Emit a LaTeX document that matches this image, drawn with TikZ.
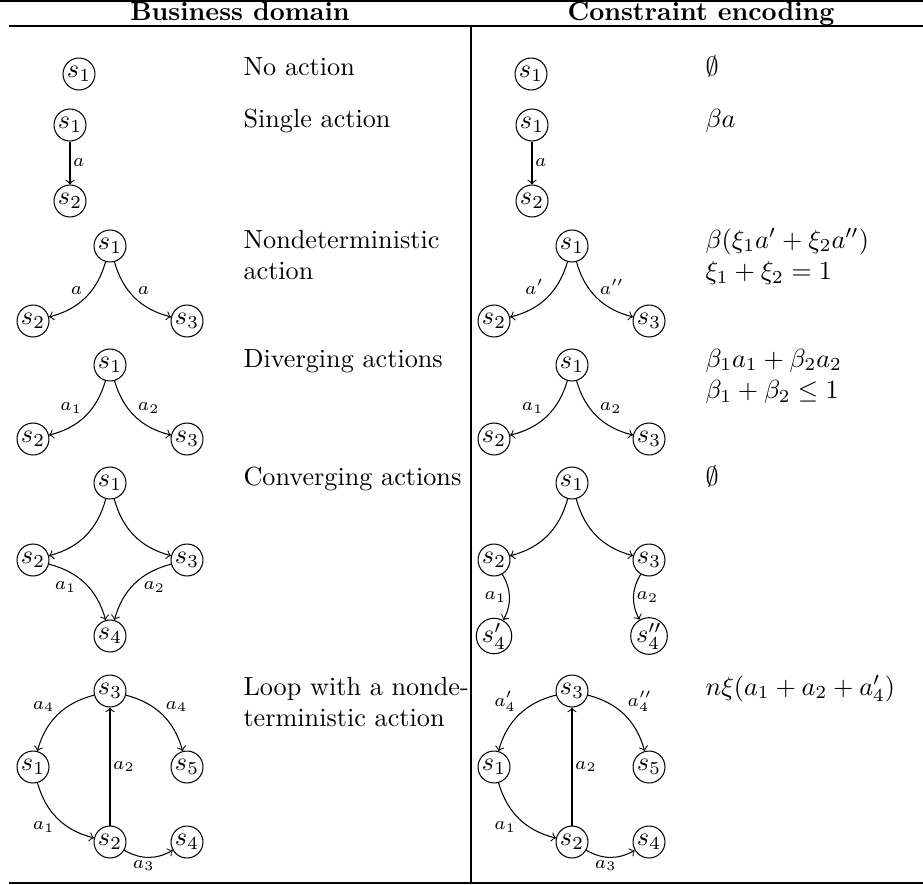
\documentclass[tikz,border=0pt]{standalone}
\begin{document}
\begin{tikzpicture}[x=0.3817pt, y=0.3817pt,
  st/.style={circle, draw, thin, minimum size=12.2pt, inner sep=0pt},
  tr/.style={->, thin},
  lbl/.style={font=\scriptsize, inner sep=1pt},
  txt/.style={anchor=base west, inner sep=0pt},
  hd/.style={anchor=base, inner sep=0pt, font=\bfseries},
  heavyrule/.style={line width=0.8pt},
  lightrule/.style={line width=0.5pt}]
\useasboundingbox (0,0) rectangle (923,-884);
% rules
\coordinate (tl) at (0,-1.05);   \coordinate (tr) at (923,-1.05);
\coordinate (ml) at (9,-26);     \coordinate (mr) at (923,-26);
\coordinate (bl) at (9,-882.95); \coordinate (br) at (923,-882.95);
\coordinate (vt) at (471,-26);   \coordinate (vb) at (471,-882);
\draw[heavyrule] (tl) -- (tr);
\draw[lightrule] (ml) -- (mr);
\draw[heavyrule] (bl) -- (br);
\draw[thin] (vt) -- (vb);
% header
\node[hd] (h1) at (240,-20.5) {Business domain};
\node[hd] (h2) at (701,-20.5) {Constraint encoding};

% row 1
\node[st] (La1) at (79,-74) {$s_1$};
\node[txt] (Lat) at (243,-76) {No action};
\node[st] (Ra1) at (531,-74) {$s_1$};
\node[txt] (Rat) at (705,-76) {$\emptyset$};

% row 2
\node[st] (Lb1) at (70,-125) {$s_1$};
\node[st] (Lb2) at (70,-201) {$s_2$};
\draw[tr] (Lb1) -- node[lbl, right] {$a$} (Lb2);
\node[txt] (Lbt) at (243,-128) {Single action};
\node[st] (Rb1) at (532,-125) {$s_1$};
\node[st] (Rb2) at (532,-201) {$s_2$};
\draw[tr] (Rb1) -- node[lbl, right] {$a$} (Rb2);
\node[txt] (Rbt) at (705,-128) {$\beta a$};

% row 3
\node[st] (Lc1) at (110,-246) {$s_1$};
\node[st] (Lc2) at (33,-321) {$s_2$};
\node[st] (Lc3) at (187,-321) {$s_3$};
\draw[tr] (Lc1) to[bend left] node[lbl, above left] {$a$} (Lc2);
\draw[tr] (Lc1) to[bend right] node[lbl, above right] {$a$} (Lc3);
\node[txt] (Lct1) at (243,-248) {Nondeterministic};
\node[txt] (Lct2) at (243,-279.5) {action};
\node[st] (Rc1) at (572,-246) {$s_1$};
\node[st] (Rc2) at (494,-321) {$s_2$};
\node[st] (Rc3) at (649,-321) {$s_3$};
\draw[tr] (Rc1) to[bend left] node[lbl, above left] {$a'$} (Rc2);
\draw[tr] (Rc1) to[bend right] node[lbl, above right] {$a''$} (Rc3);
\node[txt] (Rct1) at (705,-248) {$\beta(\xi_1 a' + \xi_2 a'')$};
\node[txt] (Rct2) at (705,-279.5) {$\xi_1 + \xi_2 = 1$};

% row 4
\node[st] (Ld1) at (110,-365) {$s_1$};
\node[st] (Ld2) at (33,-439) {$s_2$};
\node[st] (Ld3) at (187,-439) {$s_3$};
\draw[tr] (Ld1) to[bend left] node[lbl, above left] {$a_1$} (Ld2);
\draw[tr] (Ld1) to[bend right] node[lbl, above right] {$a_2$} (Ld3);
\node[txt] (Ldt) at (243,-367) {Diverging actions};
\node[st] (Rd1) at (572,-365) {$s_1$};
\node[st] (Rd2) at (494,-439) {$s_2$};
\node[st] (Rd3) at (649,-439) {$s_3$};
\draw[tr] (Rd1) to[bend left] node[lbl, above left] {$a_1$} (Rd2);
\draw[tr] (Rd1) to[bend right] node[lbl, above right] {$a_2$} (Rd3);
\node[txt] (Rdt1) at (705,-367) {$\beta_1 a_1 + \beta_2 a_2$};
\node[txt] (Rdt2) at (705,-398.5) {$\beta_1 + \beta_2 \leq 1$};

% row 5
\node[st] (Le1) at (110,-483) {$s_1$};
\node[st] (Le2) at (33,-560) {$s_2$};
\node[st] (Le3) at (187,-560) {$s_3$};
\node[st] (Le4) at (110,-636) {$s_4$};
\draw[tr] (Le1) to[bend left] (Le2);
\draw[tr] (Le1) to[bend right] (Le3);
\draw[tr] (Le2) to[bend left] node[lbl, pos=0.4, below left] {$a_1$} (Le4);
\draw[tr] (Le3) to[bend right] node[lbl, pos=0.4, below right] {$a_2$} (Le4);
\node[txt] (Let) at (243,-485) {Converging actions};
\node[st] (Re1) at (572,-483) {$s_1$};
\node[st] (Re2) at (494,-560) {$s_2$};
\node[st] (Re3) at (649,-560) {$s_3$};
\node[st] (Re4) at (494,-636) {$s_4'$};
\node[st] (Re5) at (649,-636) {$s_4''$};
\draw[tr] (Re1) to[bend left] (Re2);
\draw[tr] (Re1) to[bend right] (Re3);
\draw[tr] (Re2) to[bend left] node[lbl, left] {$a_1$} (Re4);
\draw[tr] (Re3) to[bend right] node[lbl, right] {$a_2$} (Re5);
\node[txt] (Ret) at (705,-485) {$\emptyset$};

% row 6
\node[st] (Lf3) at (110,-691) {$s_3$};
\node[st] (Lf1) at (33,-767) {$s_1$};
\node[st] (Lf5) at (187,-767) {$s_5$};
\node[st] (Lf2) at (110,-842) {$s_2$};
\node[st] (Lf4) at (187,-842) {$s_4$};
\draw[tr] (Lf3) to[bend right] node[lbl, above left] {$a_4$} (Lf1);
\draw[tr] (Lf3) to[bend left] node[lbl, above right] {$a_4$} (Lf5);
\draw[tr] (Lf2) -- node[lbl, right] {$a_2$} (Lf3);
\draw[tr] (Lf1) to[bend right] node[lbl, below left] {$a_1$} (Lf2);
\draw[tr] (Lf2) to[bend right] node[lbl, pos=0.4, below] {$a_3$} (Lf4);
\node[txt] (Lft1) at (243,-695) {Loop with a nonde-};
\node[txt] (Lft2) at (243,-726.5) {terministic action};
\node[st] (Rf3) at (572,-691) {$s_3$};
\node[st] (Rf1) at (494,-767) {$s_1$};
\node[st] (Rf5) at (649,-767) {$s_5$};
\node[st] (Rf2) at (572,-842) {$s_2$};
\node[st] (Rf4) at (649,-842) {$s_4$};
\draw[tr] (Rf3) to[bend right] node[lbl, above left] {$a_4'$} (Rf1);
\draw[tr] (Rf3) to[bend left] node[lbl, above right] {$a_4''$} (Rf5);
\draw[tr] (Rf2) -- node[lbl, right] {$a_2$} (Rf3);
\draw[tr] (Rf1) to[bend right] node[lbl, below left] {$a_1$} (Rf2);
\draw[tr] (Rf2) to[bend right] node[lbl, pos=0.4, below] {$a_3$} (Rf4);
\node[txt] (Rft) at (705,-695) {$n\xi(a_1 + a_2 + a_4')$};
\end{tikzpicture}
\end{document}
